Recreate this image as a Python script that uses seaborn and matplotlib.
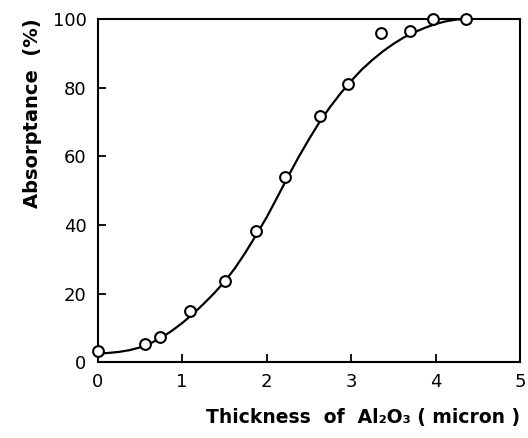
import matplotlib
matplotlib.use('Agg')
import matplotlib.pyplot as plt
import seaborn as sns
import pandas as pd

# measured points (thickness in micron, absorptance in %)
thickness = [0.0, 0.56, 0.74, 1.09, 1.51, 1.87, 2.22, 2.63, 2.96, 3.35, 3.70, 3.97, 4.36]
absorptance = [3.2, 5.2, 7.3, 14.8, 23.7, 38.1, 53.8, 71.7, 81.0, 95.8, 96.4, 100.0, 100.0]

# smooth curve
curve_x = [0.0, 0.125, 0.25, 0.375, 0.5, 0.625, 0.75, 0.875, 1.0, 1.125, 1.25,
           1.375, 1.5, 1.625, 1.75, 1.875, 2.0, 2.125, 2.25, 2.375, 2.5, 2.625,
           2.75, 2.875, 3.0, 3.125, 3.25, 3.375, 3.5, 3.625, 3.75, 3.875, 4.0,
           4.125, 4.25, 4.4]
curve_y = [2.5, 2.7, 3.0, 3.5, 4.3, 5.5, 7.1, 9.1, 11.4, 14.0, 16.9,
           20.0, 23.4, 27.4, 32.0, 37.0, 42.2, 48.0, 53.9, 59.6, 64.9, 69.9,
           74.3, 78.3, 81.9, 85.2, 88.0, 90.5, 92.7, 94.6, 96.1, 97.4, 98.5,
           99.3, 99.8, 100.0]

x_ticks = [0, 1, 2, 3, 4, 5]
y_ticks = [0, 20, 40, 60, 80, 100]

pts = pd.DataFrame({'x': thickness, 'y': absorptance})
crv = pd.DataFrame({'x': curve_x, 'y': curve_y})

sns.set_style('white')
plt.rcParams['font.family'] = ['DejaVu Sans']
plt.rcParams['text.color'] = 'black'
plt.rcParams['axes.labelcolor'] = 'black'

fig = plt.figure(figsize=(5.28, 4.38), dpi=100)
ax = fig.add_axes([0.185, 0.173, 0.8, 0.784])

sns.lineplot(data=crv, x='x', y='y', ax=ax, color='black', linewidth=1.6,
             sort=True, estimator=None)
sns.scatterplot(data=pts, x='x', y='y', ax=ax, s=60, marker='o',
                facecolor='white', edgecolor='black', linewidth=1.5, zorder=3,
                clip_on=False)

ax.set_xlim(0, 5)
ax.set_ylim(0, 100)
ax.set_xticks(x_ticks)
ax.set_yticks(y_ticks)
ax.tick_params(direction='in', length=6, width=1.3, labelsize=13, pad=8,
               bottom=True, left=True, top=False, right=False, colors='black')

for sp in ax.spines.values():
    sp.set_color('black')
    sp.set_linewidth(1.5)

ax.set_xlabel('Thickness  of  Al\u2082O\u2083 ( micron )', fontsize=13.5,
              fontweight='bold', labelpad=12, loc='right', color='black')
ax.set_ylabel('Absorptance  (%)', fontsize=14, fontweight='bold', labelpad=8,
              loc='top', color='black')

fig.savefig('out.png', dpi=100)
